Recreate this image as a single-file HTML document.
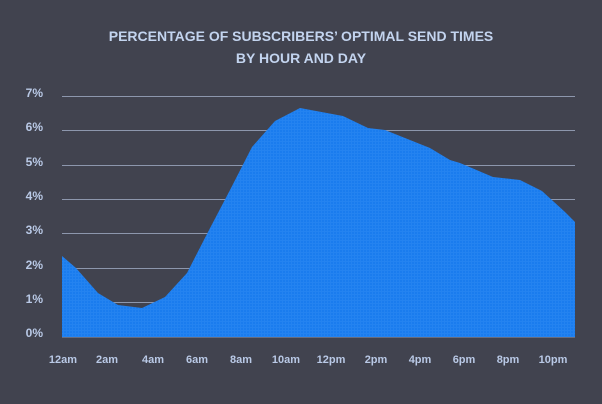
<!DOCTYPE html><html><head><style>body{margin:0;background:#41434f}</style></head><body>
<svg width="602" height="404" xmlns="http://www.w3.org/2000/svg" style="display:block;font-family:'Liberation Sans',sans-serif;font-weight:bold">
<defs><pattern id="p" width="3" height="3" patternUnits="userSpaceOnUse"><rect width="3" height="3" fill="#1a7cee"/><rect width="3" height="1" fill="#2483f0"/><rect width="1" height="3" fill="#2483f0"/></pattern></defs>
<rect width="602" height="404" fill="#41434f"/>
<text x="301" y="41" text-anchor="middle" fill="#c3d4ef" font-size="14">PERCENTAGE OF SUBSCRIBERS’ OPTIMAL SEND TIMES</text>
<text x="301" y="63" text-anchor="middle" fill="#c3d4ef" font-size="14">BY HOUR AND DAY</text>
<g stroke="#8d97ad" stroke-width="1">
<line x1="62" x2="575" y1="96.5" y2="96.5"/><line x1="62" x2="575" y1="130.5" y2="130.5"/><line x1="62" x2="575" y1="165.5" y2="165.5"/><line x1="62" x2="575" y1="199.5" y2="199.5"/><line x1="62" x2="575" y1="233.5" y2="233.5"/><line x1="62" x2="575" y1="268.5" y2="268.5"/><line x1="62" x2="575" y1="302.5" y2="302.5"/><line x1="62" x2="575" y1="337" y2="337"/>
</g>
<polygon fill="url(#p)" points="62,337 62,256 76,268 98,293 118,305 142,308 165,297 187,273 208,232 230,190 252,147 275,121 300,108 343,116 368,128 385,130 430,148 450,160 460,163 493,177 520,180 542,191 565,212 575,222 575,337"/>
<g fill="#b9c9e6" font-size="12" text-anchor="end">
<text x="43" y="97">7%</text><text x="43" y="131">6%</text><text x="43" y="166">5%</text><text x="43" y="200">4%</text><text x="43" y="234">3%</text><text x="43" y="269">2%</text><text x="43" y="303">1%</text><text x="43" y="337">0%</text>
</g>
<g fill="#b9c9e6" font-size="11" text-anchor="middle">
<text x="63" y="363">12am</text><text x="107" y="363">2am</text><text x="153" y="363">4am</text><text x="197" y="363">6am</text><text x="241" y="363">8am</text><text x="286" y="363">10am</text><text x="331" y="363">12pm</text><text x="376" y="363">2pm</text><text x="420" y="363">4pm</text><text x="464" y="363">6pm</text><text x="508" y="363">8pm</text><text x="553" y="363">10pm</text>
</g>
</svg></body></html>
